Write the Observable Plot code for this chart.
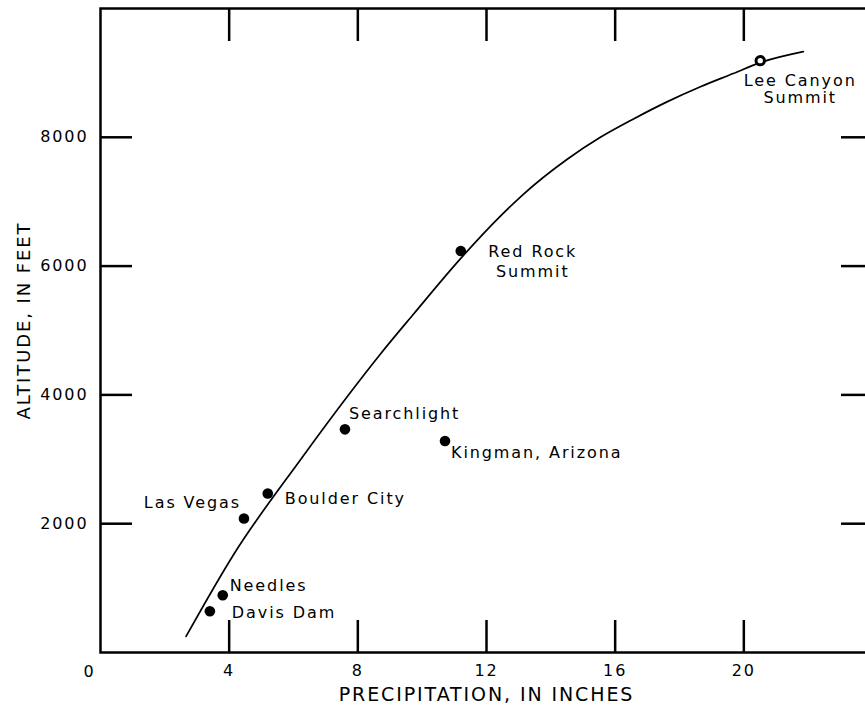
<!DOCTYPE html>
<html>
<head>
<meta charset="utf-8">
<script src="https://cdn.jsdelivr.net/npm/d3@7"></script>
<script src="https://cdn.jsdelivr.net/npm/@observablehq/plot@0.6"></script>
<style>
  html, body { margin: 0; padding: 0; background: #fff; }
  #chart svg text { letter-spacing: 1.9px; }
</style>
</head>
<body>
<div id="chart"></div>
<script>
// ---- data ----
const xTicks = [4, 8, 12, 16, 20];
const yTicks = [2000, 4000, 6000, 8000];
const originLabel = [0];

const stationNames = ["Davis Dam", "Needles", "Las Vegas", "Boulder City", "Searchlight", "Kingman, Arizona", "Red Rock\nSummit", "Lee Canyon\nSummit"];
const stationPrecip = [3.40, 3.80, 4.46, 5.20, 7.60, 10.71, 11.20, 20.51];
const stationAltitude = [640, 890, 2080, 2470, 3465, 3285, 6235, 9190];

const curvePrecip = [2.66, 4.15, 6.24, 7.68, 8.71, 9.74, 11.20, 12.44, 13.11, 14.51, 15.54, 16.57, 17.61, 18.65, 19.67, 20.51, 21.85];
const curveAltitude = [250, 1530, 3010, 3980, 4640, 5260, 6120, 6780, 7100, 7660, 8000, 8285, 8550, 8785, 8990, 9160, 9330];

// ---- derived tables ----
const stations = stationNames.map((name, i) => ({name, p: stationPrecip[i], a: stationAltitude[i]}));
const curve = curvePrecip.map((p, i) => ({p, a: curveAltitude[i]}));

// label placement (layout, not data)
const labelLayout = [
  {dx: 22, dy: 1, anchor: "start", lh: 1.2},
  {dx: 7, dy: -10, anchor: "start", lh: 1.2},
  {dx: -3, dy: -17, anchor: "end", lh: 1.2},
  {dx: 17, dy: 4, anchor: "start", lh: 1.2},
  {dx: 4, dy: -17, anchor: "start", lh: 1.2},
  {dx: 6, dy: 11, anchor: "start", lh: 1.2},
  {dx: 72, dy: 10, anchor: "middle", lh: 1.25},
  {dx: 40, dy: 28, anchor: "middle", lh: 1.07}
];
const font = "DejaVu Sans";

const labelMarks = stations.map((s, i) => Plot.text([s], {
  x: "p", y: "a", text: "name",
  dx: labelLayout[i].dx, dy: labelLayout[i].dy,
  textAnchor: labelLayout[i].anchor, lineHeight: labelLayout[i].lh,
  fontSize: 16, fill: "black"
}));

const chart = Plot.plot({
  width: 865,
  height: 716,
  marginLeft: 100,
  marginRight: -7,
  marginTop: 8,
  marginBottom: 64,
  x: {domain: [0, 24]},
  y: {domain: [0, 10000]},
  style: {fontFamily: font, background: "white", color: "black"},
  marks: [
    Plot.frame({stroke: "black", strokeWidth: 2.5}),
    // inward ticks on all four sides
    Plot.axisX({anchor: "bottom", ticks: xTicks, tickSize: -32, strokeWidth: 2.5, tickFormat: () => "", label: null}),
    Plot.axisX({anchor: "top", ticks: xTicks, tickSize: -32, strokeWidth: 2.5, tickFormat: () => "", label: null}),
    Plot.axisY({anchor: "left", ticks: yTicks, tickSize: -32, strokeWidth: 2.5, tickFormat: () => "", label: null}),
    Plot.axisY({anchor: "right", ticks: yTicks, tickSize: -32, strokeWidth: 2.5, tickFormat: () => "", label: null}),
    // tick labels
    Plot.axisX({anchor: "bottom", ticks: xTicks, tickSize: 0, tickPadding: 12, fontSize: 16, tickFormat: d => String(d), label: null}),
    Plot.axisY({anchor: "left", ticks: yTicks, tickSize: 0, tickPadding: 12, fontSize: 16, tickFormat: d => String(d), label: null}),
    Plot.text(originLabel, {x: d => d, y: d => 0, text: d => String(d), dx: -11, dy: 19, fontSize: 16}),
    // axis titles
    Plot.text(["PRECIPITATION, IN INCHES"], {frameAnchor: "bottom", text: d => d, dy: 48, fontSize: 19}),
    Plot.text(["ALTITUDE, IN FEET"], {frameAnchor: "left", textAnchor: "middle", text: d => d, rotate: -90, dx: -76, dy: -10, fontSize: 18}),
    // curve and stations
    Plot.line(curve, {x: "p", y: "a", curve: "monotone-x", stroke: "black", strokeWidth: 1.7}),
    Plot.dot(stations.filter(s => !s.name.startsWith("Lee")), {x: "p", y: "a", r: 5.3, fill: "black"}),
    Plot.dot(stations.filter(s => s.name.startsWith("Lee")), {x: "p", y: "a", r: 4.2, fill: "white", stroke: "black", strokeWidth: 3}),
    ...labelMarks
  ]
});
document.getElementById("chart").appendChild(chart);
</script>
</body>
</html>
